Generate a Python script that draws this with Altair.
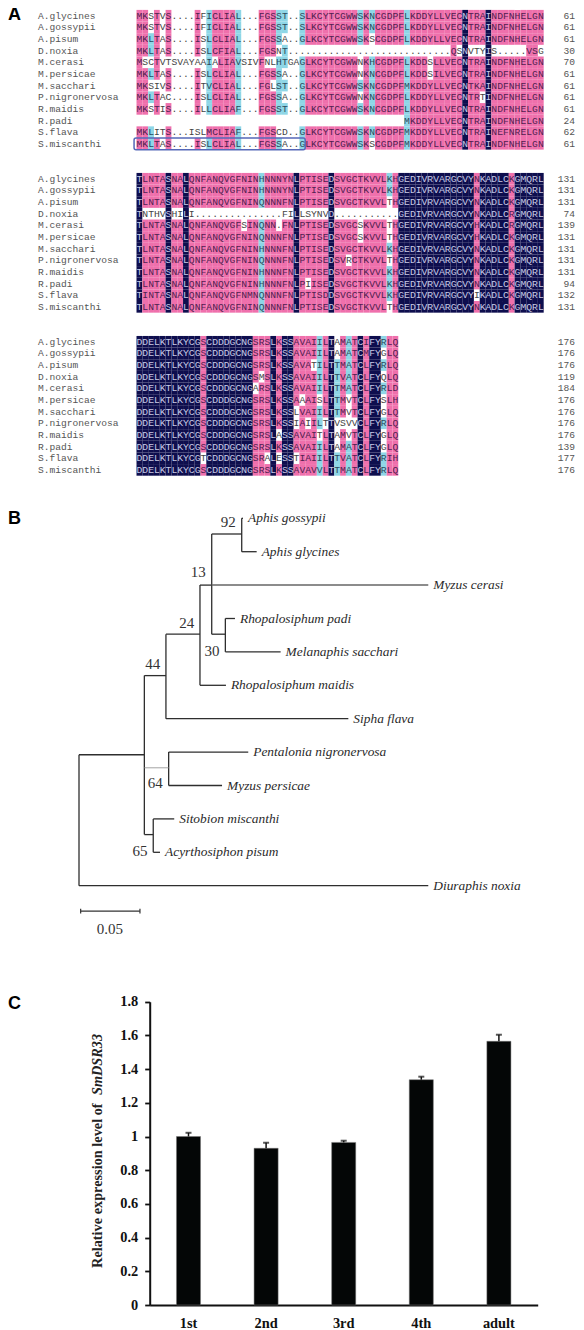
import altair as alt
import pandas as pd

# ---------- alignment ----------
species = ["A.glycines", "A.gossypii", "A.pisum", "D.noxia", "M.cerasi", "M.persicae",
           "M.sacchari", "P.nigronervosa", "R.maidis", "R.padi", "S.flava", "S.miscanthi"]

seq1 = [
 "MKSTVS....IFICLIAL...FGSST..SLKCYTCGWWSKNCGDPFLKDDYLLVECNTRAINDFNHELGN",
 "MKSTVS....IFICLIAL...FGSST..SLKCYTCGWWSKNCGDPFLKDDYLLVECNTRAINDFNHELGN",
 "MKLTAS....ISLCLIAL...FGSSA..GLKCYTCGWWSKSCGDPFLKDDYLLVECNTRAINDFNHELGN",
 "MKLTAS....ISLCFIAL...FGSNT............................QSNVTYIS.....VSG",
 "MSCTVTSVAYAAIALIAVSIVFNLHTGAGLKCYTCGWWNKHCGDPFLKDDSLLVECNTRAINDFNHELGN",
 "MKLTAS....ISLCLIAL...FGSSA..GLKCYTCGWWNKNCGDPFLKDDSILVECNTRAINDFNHELGN",
 "MKSIVS....ITVCLIAL...FGLST..GLKCYTCGWWSKNCGDPFMKDDYLLVECNTKAINDFNHELGN",
 "MKLTAC....ISLCLIAL...FGSSA..GLKCYTCGWWNKNCGDPFLKDDYLLVECNTRTINDFNHELGN",
 "MKSTIS....ILLCLIAF...FGSST..GLKCYTCGWWSKNCGDPFLKDDYLLVECNTRAINDFNHELGN",
 "                                              MKDDYLLVECNTRAINDFNHELGN",
 "MKLITS...ISLMCLIAF...FGSCD..GLKCYTCGWWSKNCGDPFMKDDYLLVECNTRAINEFNRELGN",
 "MKLTAS....ISLCLIAL...FGSSA..GLKCYTCGWWSKSCGDPFMKDDYLLVECNTRAINDFNHELGN",
]
seq2 = [
 "TLNTASNALQNFANQVGFNINHNNNYNLPTISEDSVGCTKVVLKHGEDIVRVARGCVYNKADLCKGMQRL",
 "TLNTASNALQNFANQVGFNINHNNNYNLPTISEDSVGCTKVVLKHGEDIVRVARGCVYNKADLCKGMQRL",
 "TLNTASNALQNFANQVGFNINQNNNFNLPTISEDSVGCTKVVLTHGEDIVRVARGCVYNKADLCKGMQRL",
 "TNTHVSHILI...............FILLSYNVD...........GEDIVRVARGCVYNKADLCRGMQRL",
 "TLNTASNALQNFANQVGFSINQNN.FNLPTISEDSVGCSKVVLTHGEDIVRVARGCVYHKADLCRGMQRL",
 "TLNTASNALQNFANQVGFNINQNNNFNLPTISEDSVGCSKVVLTHGEDIVRVARGCVYHKADLCKGMQRL",
 "TLNTASNALQNFANQVGFNINHNNNFNLPTISEDSVGCTKVVLKHGEDIVRVARGCVYNKADLCKGMQRL",
 "TLNTASNALQNFANQVGFNINQNNNFNLPTISEDSVRCTKVVLTHGEDIVRVARGCVYNKADLCKGMQRL",
 "TLNTASNALQNFANQVGFNINHNNNFNLPTISEDSVGCTKVVLKHGEDIVRVARGCVYNKADLCKGMQRL",
 "TLNTASNALQNFANQVGFNINHNNNFNLPIISEDSVGCTKVVLKHGEDIVRVARGCVYNKADLCKGMQRL",
 "TINTASNALQNFANQVGFNMNQNNNFNLPTISDDSVGCTKVVLKHGEDIVRVARGCVYIKADLCKGMQRL",
 "TLNTASNALQNFANQVGFNINQNNNFNLPTISEDSVGCTKVVLTHGEDIVRVARGCVYNKADLCKGMQRL",
]
seq3 = [
 "DDELKTLKYCGSCDDDGCNGSRSLKSSAVAIILTAMATCIFYRLQ",
 "DDELKTLKYCGSCDDDGCNGSRSLKSSAVAIILTAMATCMFYGLQ",
 "DDELKTLKYCGSCDDDGCNGSRSLKSSAVATILTTMATCLFYRLQ",
 "DDELKTLKYCGSCDDDGCNGSMSLKSSAVAIILTTVATCLFYQLQ",
 "DDELKTLKYCGSCDDDGCNGARSLKSSAVAIILTTMATCLFYRLD",
 "DDELKTLKYCGSCDDDGCNGSRSLKSSAAAISLTTMVTCLFYSLH",
 "DDELKTLKYCGSCDDDGCNGSRSLKSSLVAIILTTMVTCLFYGLQ",
 "DDELKTLKYCGSCDDDGCNGSRSLKSSIAIILTTVSVVCLFYRLQ",
 "DDELKTLKYCGSCDDDGCNGSRSLASSAVAITLTAMVTCLFYGLQ",
 "DDELKTLKYCGSCDDDGCNGSRSLKSSAVAIILTAMATCLFYGLQ",
 "DDELKTLKYCGTCDDDGCNGSRALESSTIAIILTTVATCLFYRIH",
 "DDELKTLKYCGSCDDDGCNGSRSLKSSAVAVVLTTMATCLFYRLQ",
]
counts1 = [61, 61, 61, 30, 70, 61, 61, 61, 61, 24, 62, 61]
counts2 = [131, 131, 131, 74, 139, 131, 131, 131, 131, 94, 132, 131]
counts3 = [176, 176, 176, 119, 184, 176, 176, 176, 176, 139, 177, 176]

# shading classes: p = identical (pink), c = similar (cyan), n = invariant (navy), w = none
left1 = [
 "ppwpwpwwwwpwcppppcwwwpppccwwc", "ppwpwpwwwwpwcppppcwwwpppccwwc",
 "ppcpwpwwwwpwcppppcwwwpppcwwwc", "ppcpwpwwwwpwcppppcwwwpppwcwww",
 "pwwpwwwwwwwwcwpppcwwwpwwccwwc", "ppcpwpwwwwpwcppppcwwwpppcwwwc",
 "ppwwwpwwwwpwcppppcwwwppwccwwc", "ppcpwwwwwwpwcppppcwwwpppcwwwc",
 "ppwpwpwwwwpwcppppcwwwpppccwwc", "wwwwwwwwwwwwwwwwwwwwwwwwwwwww",
 "ppcwwpwwwwwwpppppcwwwpppwwwwc", "ppcpwpwwwwpwcppppcwwwpppcwwwc",
]
right1 = "pppppppppcpcpppppcpppppppppnpppnppppppppp"
cons2 = "nppppnppnppppppppppppcpppppnpppppnpppppppppcpnnnnnnnnnnnnnpnnnnnpnnnnn"
cons3 = "nnnnnnnnnnnpnnnnnnnnpppnpnnppppcpncpcpnpnncpp"
white1 = {2: [40], 3: [55, 57, 58, 59, 61, 69], 4: [38, 50], 5: [38, 50], 7: [38, 59], 11: [40]}
white2 = {2: [43], 3: [1, 2, 3, 4, 6, 7, 9, 25, 26, 28, 29, 30, 31, 32], 4: [18, 38, 43], 5: [38, 43],
          7: [36, 43], 9: [29], 10: [58], 11: [43]}
white3 = {0: [34], 1: [34, 42], 2: [30], 3: [21, 42], 4: [20], 5: [28, 31, 36, 42], 6: [27, 36, 42],
          7: [27, 29, 32, 34, 35, 36, 37], 8: [24, 31, 34, 36, 42], 9: [34, 42], 10: [11, 22, 24, 27]}

cells = []
names = []
blocks = [(0, seq1, counts1, white1), (14, seq2, counts2, white2), (28, seq3, counts3, white3)]
for start, seqs, cnts, whites in blocks:
    for r, s in enumerate(seqs):
        line = start + r
        names.append({"name": species[r], "count": str(cnts[r]), "line": line})
        for c, ch in enumerate(s):
            if start == 0:
                cl = (left1[r] + right1)[c]
            elif start == 14:
                cl = cons2[c]
            else:
                cl = cons3[c]
            if ch in ". " or c in whites.get(r, []):
                cl = "w"
            if ch == " ":
                continue
            cells.append({"c0": c, "c1": c + 1, "cm": c + 0.5, "l0": line - 0.5, "l1": line + 0.5,
                          "line": line, "ch": ch, "cl": cl})
cells = pd.DataFrame(cells)
names = pd.DataFrame(names)
names["name_col"] = -16.93
names["count_col"] = 75.4

COL = alt.Scale(domain=[0, 70], range=[128.5, 535.7], nice=False, zero=False)
LINE = alt.Scale(domain=[-0.5, 39.5], range=[1.9, 467.7], nice=False, zero=False)


def xc(f):
    return alt.X(f, scale=COL, axis=None)


def yl(f):
    return alt.Y(f, scale=LINE, axis=None)


rects = alt.Chart(cells[cells.cl != "w"]).mark_rect().encode(
    x=xc("c0:Q"), x2="c1:Q", y=yl("l0:Q"), y2="l1:Q",
    color=alt.Color("cl:N", legend=None,
                    scale=alt.Scale(domain=["p", "c", "n"], range=["#ef70ac", "#8ed6e6", "#0e0e4e"])))
letters = alt.Chart(cells).mark_text(font="Liberation Mono", fontSize=9.7, baseline="middle", align="center").encode(
    x=xc("cm:Q"), y=yl("line:Q"), text="ch:N",
    color=alt.Color("cl:N", legend=None,
                    scale=alt.Scale(domain=["p", "c", "n", "w"], range=["#4f2250", "#2c4a5c", "#c9cbe6", "#444444"])))
name_text = alt.Chart(names).mark_text(font="Liberation Mono", fontSize=9.6, baseline="middle", align="left",
                                       color="#555555").encode(x=xc("name_col:Q"), y=yl("line:Q"), text="name:N")
count_text = alt.Chart(names).mark_text(font="Liberation Mono", fontSize=9.6, baseline="middle", align="right",
                                        color="#555555").encode(x=xc("count_col:Q"), y=yl("line:Q"), text="count:N")
box_cols = [-0.42, 29.0]
box_lines = [10.5, 11.5]
box = alt.Chart(pd.DataFrame({"a": [box_cols[0]], "b": [box_cols[1]], "t": [box_lines[0]], "u": [box_lines[1]]})).mark_rect(
    fillOpacity=0, stroke="#5668b8", strokeWidth=1.5, cornerRadius=2).encode(
    x=xc("a:Q"), x2="b:Q", y=yl("t:Q"), y2="u:Q")

# ---------- tree: branch length (substitutions/site) against tip row ----------
DIST = alt.Scale(domain=[0, 0.3], range=[71, 426.8], nice=False, zero=False)
ROW = alt.Scale(domain=[0, 11], range=[510.3, 877.7], nice=False, zero=False)

# d1, d2, r1, r2
branches = [
 (0.1372, 0.1372, 0, 1), (0.1372, 0.1383, 0, 0), (0.1372, 0.1498, 1, 1),
 (0.1119, 0.1372, 0.47, 0.47), (0.1119, 0.1119, 0.47, 3.47),
 (0.1119, 0.1234, 3.47, 3.47), (0.1234, 0.1234, 3, 4), (0.1234, 0.1315, 3, 3), (0.1234, 0.170, 4, 4),
 (0.102, 0.1119, 2, 2), (0.102, 0.102, 2, 5), (0.102, 0.1239, 5, 5),
 (0.0733, 0.102, 3.47, 3.47), (0.0733, 0.0733, 3.47, 6), (0.0733, 0.2271, 6, 6),
 (0.0551, 0.0733, 4.71, 4.71), (0.0551, 0.0551, 4.71, 9.47),
 (0, 0.0551, 7.08, 7.08), (0, 0, 7.08, 11), (0, 0.2945, 11, 11),
 (0.0756, 0.0756, 7, 8), (0.0756, 0.1427, 7, 7), (0.0756, 0.1206, 8, 8),
 (0.0551, 0.0626, 9.47, 9.47), (0.0626, 0.0626, 9, 10), (0.0626, 0.0803, 9, 9), (0.0626, 0.0683, 10, 10),
]
branch_grey = [(0.1119, 0.2945, 2, 2)]
branch_faint = [(0.0551, 0.0756, 7.47, 7.47)]
scale_bar = [(0.0014, 0.0514, 11.76, 11.76), (0.0014, 0.0014, 11.69, 11.83), (0.0514, 0.0514, 11.69, 11.83)]

tips = ["Aphis gossypii", "Aphis glycines", "Myzus cerasi", "Rhopalosiphum padi", "Melanaphis sacchari",
        "Rhopalosiphum maidis", "Sipha flava", "Pentalonia nigronervosa", "Myzus persicae",
        "Sitobion miscanthi", "Acyrthosiphon pisum", "Diuraphis noxia"]
tip_dist = [0.1383, 0.1498, 0.2945, 0.1315, 0.170, 0.1239, 0.2271, 0.1427, 0.1206, 0.0803, 0.0683, 0.2945]
tip_row = list(range(12))

boot_text = ["92", "13", "24", "30", "44", "64", "65", "0.05"]
boot_dist = [0.1259, 0.1006, 0.0908, 0.1121, 0.0621, 0.0643, 0.0514, 0.0261]
boot_row = [0.10, 1.60, 3.12, 3.96, 4.36, 7.94, 9.96, 12.31]


def seg_layer(rows, color, width):
    df = pd.DataFrame(rows, columns=["d1", "d2", "r1", "r2"])
    return alt.Chart(df).mark_rule(color=color, strokeWidth=width).encode(
        x=alt.X("d1:Q", scale=DIST, axis=None), x2="d2:Q",
        y=alt.Y("r1:Q", scale=ROW, axis=None), y2="r2:Q")


tip_layer = alt.Chart(pd.DataFrame({"t": tips, "d": tip_dist, "r": tip_row})).mark_text(
    font="Liberation Serif", fontStyle="italic", fontSize=13.4, align="left", baseline="middle", dx=5,
    color="#2a2a2a").encode(
    x=alt.X("d:Q", scale=DIST, axis=None), y=alt.Y("r:Q", scale=ROW, axis=None), text="t:N")
boot_layer = alt.Chart(pd.DataFrame({"t": boot_text, "d": boot_dist, "r": boot_row})).mark_text(
    font="Liberation Serif", fontSize=15, align="center", baseline="middle", color="#333333").encode(
    x=alt.X("d:Q", scale=DIST, axis=None), y=alt.Y("r:Q", scale=ROW, axis=None), text="t:N")

# ---------- expression bars ----------
stages = ["1st", "2nd", "3rd", "4th", "adult"]
values = [1.0, 0.93, 0.965, 1.337, 1.565]
upper = [1.022, 0.963, 0.975, 1.355, 1.604]
bar_df = pd.DataFrame({"stage": stages, "value": values, "upper": upper})

BAND = dict(domain=stages, range=[141.7, 529.7], paddingInner=0.69, paddingOuter=0.345)
VAL = alt.Scale(domain=[0, 1.8], range=[1297, 993.7], nice=False)
H = 1322

bars = alt.Chart(bar_df).mark_bar(color="#040606", stroke="#777777", strokeWidth=0.5).encode(
    x=alt.X("stage:N", sort=stages, scale=alt.Scale(**BAND), title=None,
            axis=alt.Axis(orient="bottom", offset=1297 - H, ticks=False, labelAngle=0, labelFont="Liberation Serif",
                          labelFontWeight="bold", labelFontSize=14.4, labelColor="#111111", labelPadding=11,
                          domainColor="#111111", domainWidth=1.8, grid=False)),
    y=alt.Y("value:Q", scale=VAL, title=None,
            axis=alt.Axis(orient="left", offset=-141.7, values=[0, .2, .4, .6, .8, 1, 1.2, 1.4, 1.6, 1.8],
                          format="~g", tickSize=5, tickWidth=1.8, tickColor="#111111", labelFont="Liberation Serif",
                          labelFontWeight="bold", labelFontSize=14.4, labelColor="#111111", labelPadding=7,
                          domainColor="#111111", domainWidth=2, grid=False)))
stems = alt.Chart(bar_df).mark_rule(color="#111111", strokeWidth=1.5).encode(
    x=alt.X("stage:N", sort=stages, scale=alt.Scale(**BAND), axis=None),
    y=alt.Y("value:Q", scale=VAL, axis=None), y2="upper:Q")
caps = alt.Chart(bar_df).mark_tick(color="#111111", size=6, thickness=2, orient="horizontal").encode(
    x=alt.X("stage:N", sort=stages, scale=alt.Scale(**BAND), axis=None),
    y=alt.Y("upper:Q", scale=VAL, axis=None))

# y title with its italic gene name, anchored along the value axis
title_parts = ["Relative expression level of", "SmDSR33"]
title_value = [0.22, 1.246]
title_layers = []
for part, val, style in zip(title_parts, title_value, ["normal", "italic"]):
    title_layers.append(
        alt.Chart(pd.DataFrame({"t": [part], "v": [val]})).mark_text(
            font="Liberation Serif", fontWeight="bold", fontStyle=style, fontSize=14.3, angle=270,
            align="left", baseline="middle", color="#222222").encode(
            x=alt.value(90), y=alt.Y("v:Q", scale=VAL, axis=None), text="t:N"))

# ---------- panel letters ----------
panel_labels = ["A", "B", "C"]
panel_line = [-0.05, 43.2, 84.9]
panels = alt.Chart(pd.DataFrame({"t": panel_labels, "l": panel_line})).mark_text(
    font="Liberation Sans", fontWeight="bold", fontSize=18, align="left", baseline="middle", color="black").encode(
    x=alt.value(0), y=alt.Y("l:Q", scale=LINE, axis=None), text="t:N")

chart = alt.layer(
    rects, letters, name_text, count_text, box,
    seg_layer(branches, "#2e2e2e", 1.3), seg_layer(branch_grey, "#666666", 1.5),
    seg_layer(branch_faint, "#999999", 0.9), seg_layer(scale_bar, "#333333", 1.2),
    tip_layer, boot_layer, bars, stems, caps, *title_layers, panels
).resolve_scale(x="independent", y="independent", color="independent").properties(
    width=568, height=H, padding=0, autosize=alt.AutoSizeParams(type="none"), background="white"
).configure_view(stroke=None)

chart.save("out.html", embed_options={"renderer": "svg", "actions": False})
